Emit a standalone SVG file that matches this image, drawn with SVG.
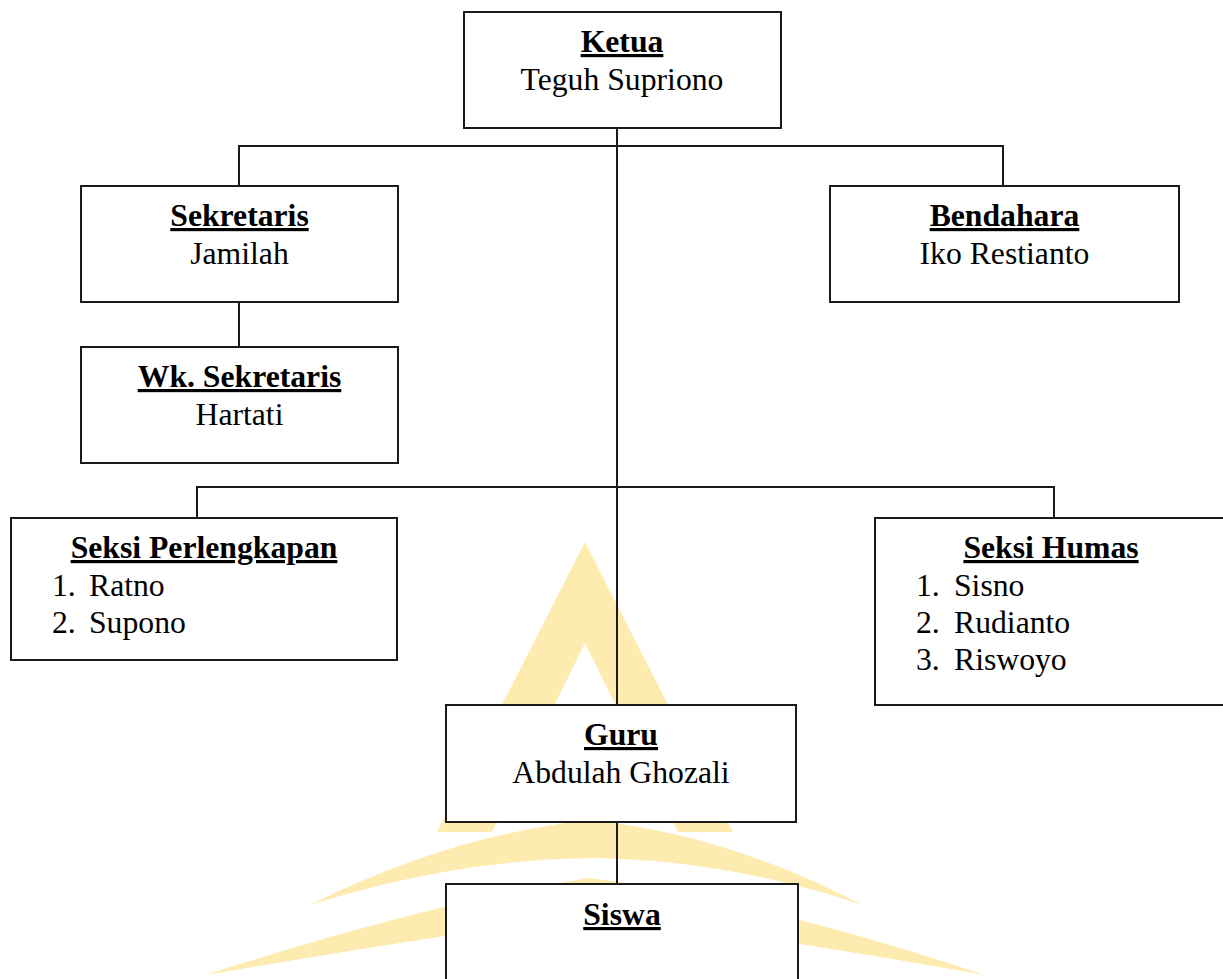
<svg xmlns="http://www.w3.org/2000/svg" width="1223" height="979" viewBox="0 0 1223 979">
<style>
.box{fill:#fff;stroke:#1a1a1a;stroke-width:2}
.ln{stroke:#1a1a1a;stroke-width:2;fill:none}
text{font-family:"Liberation Serif","Times New Roman",serif;font-size:31.7px;fill:#000}
.t{font-weight:bold;text-decoration:underline;text-anchor:middle}
.n{text-anchor:middle}
.wm{fill:#FDEBB0}
</style>
<g id="watermark">
<path class="wm" fill-rule="evenodd" d="M585,542 L437,832 L492,832 L585,643 L678,832 L733,832 Z"/>
<path class="wm" d="M590,820 Q450,835 310,905 Q450,860 590,858 Q730,860 862,905 Q730,835 590,820 Z"/>
<path class="wm" d="M590,878 Q440,900 205,975 Q440,935 590,915 Q760,935 985,975 Q760,900 590,878 Z"/>
</g>
<g id="connectors">
<line class="ln" x1="617" y1="128" x2="617" y2="705"/>
<polyline class="ln" points="239,186 239,146 1003,146 1003,186"/>
<line class="ln" x1="239" y1="302" x2="239" y2="346"/>
<polyline class="ln" points="197,518 197,487 1054,487 1054,518"/>
<line class="ln" x1="617" y1="822" x2="617" y2="884"/>
</g>
<g id="ketua">
<rect class="box" x="464" y="12" width="317" height="116"/>
<text class="t" x="622" y="52">Ketua</text>
<text class="n" x="622" y="90">Teguh Supriono</text>
</g>
<g id="sekretaris">
<rect class="box" x="81" y="186" width="317" height="116"/>
<text class="t" x="239.5" y="226">Sekretaris</text>
<text class="n" x="239.5" y="264">Jamilah</text>
</g>
<g id="bendahara">
<rect class="box" x="830" y="186" width="349" height="116"/>
<text class="t" x="1004.5" y="226">Bendahara</text>
<text class="n" x="1004.5" y="264">Iko Restianto</text>
</g>
<g id="wk-sekretaris">
<rect class="box" x="81" y="347" width="317" height="116"/>
<text class="t" x="239.5" y="387">Wk. Sekretaris</text>
<text class="n" x="239.5" y="425">Hartati</text>
</g>
<g id="seksi-perlengkapan">
<rect class="box" x="11" y="518" width="386" height="142"/>
<text class="t" x="204" y="558">Seksi Perlengkapan</text>
<text x="52" y="596">1.</text><text x="89" y="596">Ratno</text>
<text x="52" y="633">2.</text><text x="89" y="633">Supono</text>
</g>
<g id="seksi-humas">
<rect class="box" x="875" y="518" width="352" height="187"/>
<text class="t" x="1051" y="558">Seksi Humas</text>
<text x="916" y="596">1.</text><text x="954" y="596">Sisno</text>
<text x="916" y="633">2.</text><text x="954" y="633">Rudianto</text>
<text x="916" y="670">3.</text><text x="954" y="670">Riswoyo</text>
</g>
<g id="guru">
<rect class="box" x="446" y="705" width="350" height="117"/>
<text class="t" x="621" y="745">Guru</text>
<text class="n" x="621" y="783">Abdulah Ghozali</text>
</g>
<g id="siswa">
<rect class="box" x="446" y="884" width="352" height="110"/>
<text class="t" x="622" y="925">Siswa</text>
</g>
</svg>
